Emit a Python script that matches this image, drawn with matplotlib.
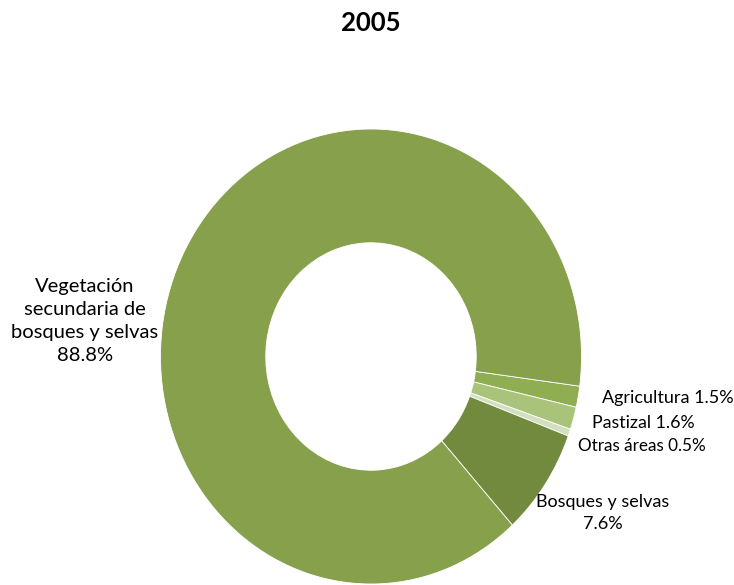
import matplotlib
matplotlib.use("Agg")
import matplotlib.pyplot as plt

categories = ["Agricultura", "Pastizal", "Otras áreas", "Bosques y selvas",
              "Vegetación secundaria de bosques y selvas"]
values = [1.5, 1.6, 0.5, 7.6, 88.8]
colors = ["#8FAE51", "#A9C47A", "#D3E0BF", "#718A3E", "#86A04B"]
label_texts = ["Agricultura 1.5%", "Pastizal 1.6%", "Otras áreas 0.5%",
               "Bosques y selvas\n7.6%",
               "Vegetación\nsecundaria de\nbosques y selvas\n88.8%"]
title = "2005"

W, H = 734, 585
RX, RY = 210.5, 227.5
CX, CY = 371, 356.5

plt.rcParams['font.family'] = ['Lato', 'DejaVu Sans']
fig = plt.figure(figsize=(W / 100, H / 100), dpi=100)
ax = fig.add_axes([0, 0, 1, 1])

ax.pie(values, colors=colors, startangle=-7.5, counterclock=False,
       center=(CX / RX, (H - CY) / RY), radius=1.0,
       wedgeprops=dict(width=0.5, edgecolor="white", linewidth=0.6))
ax.set_aspect('auto')
ax.set_xlim(0, W / RX)
ax.set_ylim(0, H / RY)
ax.axis('off')

def px(x, y):
    return x / RX, (H - y) / RY

# label positions in pixel coords (x, center y, ha, fontsize, linespacing)
label_pos = [(734, 398, 'right', 13, 1.3), (695, 423, 'right', 12.8, 1.3),
             (706, 446, 'right', 12.3, 1.3),
             (603, 513, 'center', 13, 1.45), (85, 321, 'center', 14.5, 1.45)]
for txt, (x, y, ha, fs, ls) in zip(label_texts, label_pos):
    tx, ty = px(x, y)
    ax.text(tx, ty, txt, ha=ha, va='center', fontsize=fs, color='black',
            linespacing=ls, multialignment='center')

tx, ty = px(371, 23)
ax.text(tx, ty, title, ha='center', va='center', fontsize=18.5, fontweight='bold')

fig.savefig("out.png", dpi=100)
